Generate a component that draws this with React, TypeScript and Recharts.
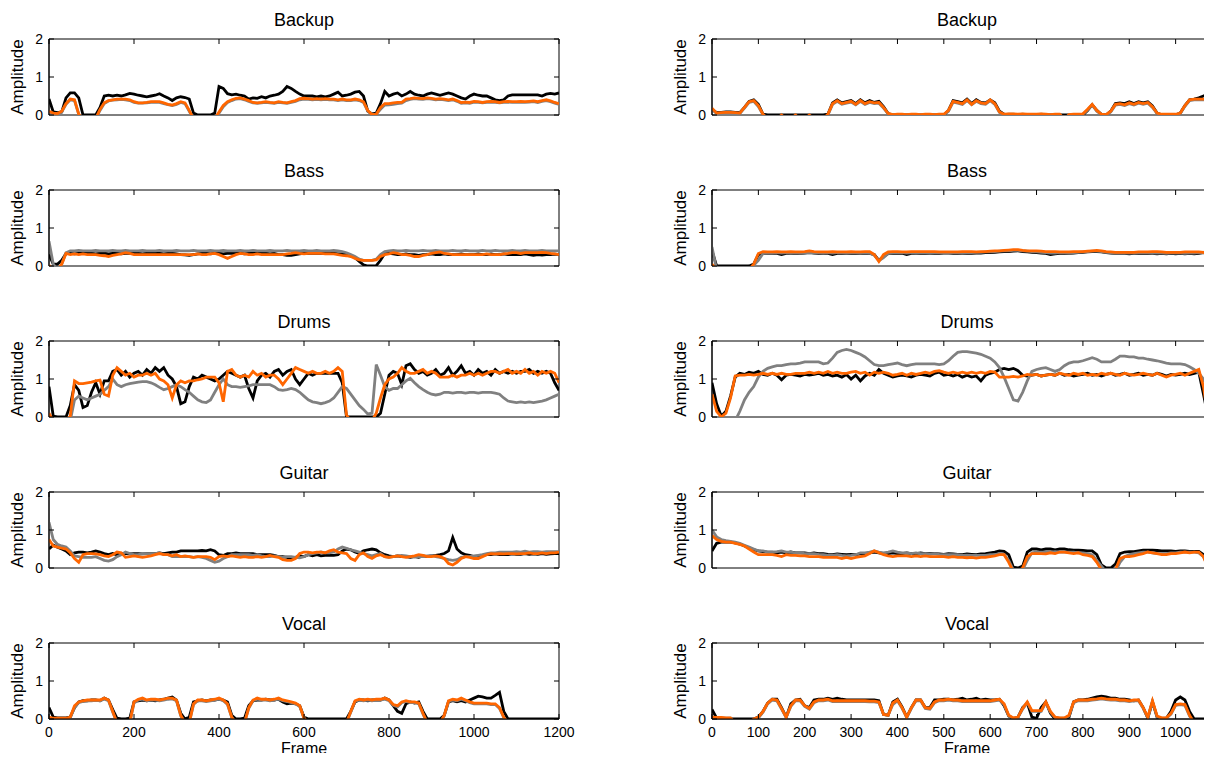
import React from 'react';
import { LineChart, Line, XAxis, YAxis, ReferenceArea } from 'recharts';

// frame grid (every 10 frames)
const LEFT_FRAMES = Array.from({ length: 121 }, (_, i) => i * 10);
const RIGHT_FRAMES = Array.from({ length: 111 }, (_, i) => i * 10);
const LEFT_TICKS = [0, 200, 400, 600, 800, 1000, 1200];
const RIGHT_TICKS = [0, 100, 200, 300, 400, 500, 600, 700, 800, 900, 1000];
const AMP_TICKS = [0, 1, 2];
const TITLES = ['Backup', 'Bass', 'Drums', 'Guitar', 'Vocal'];

// ---- left column ----
const backupLBlack = [
  0.42, 0.08, 0.06, 0.08, 0.45, 0.58, 0.58, 0.45, 0, 0,
  0, 0, 0.2, 0.5, 0.52, 0.5, 0.52, 0.5, 0.53, 0.57,
  0.55, 0.52, 0.5, 0.48, 0.5, 0.52, 0.56, 0.5, 0.45, 0.38,
  0.45, 0.48, 0.46, 0.42, 0.05, 0, 0, 0, 0, 0.05,
  0.75, 0.7, 0.56, 0.53, 0.55, 0.52, 0.5, 0.42, 0.45, 0.44,
  0.48, 0.45, 0.5, 0.52, 0.55, 0.62, 0.75, 0.7, 0.62, 0.55,
  0.5, 0.5, 0.5, 0.48, 0.5, 0.48, 0.5, 0.55, 0.6, 0.5,
  0.52, 0.55, 0.6, 0.62, 0.5, 0.1, 0.03, 0.05, 0.3, 0.62,
  0.5, 0.55, 0.58, 0.5, 0.55, 0.62, 0.55, 0.52, 0.5, 0.55,
  0.58, 0.55, 0.52, 0.55, 0.58, 0.55, 0.5, 0.45, 0.42, 0.5,
  0.55, 0.52, 0.5, 0.5, 0.45, 0.4, 0.38, 0.4, 0.5, 0.53,
  0.53, 0.53, 0.53, 0.53, 0.53, 0.53, 0.5, 0.55, 0.57, 0.55,
  0.58,
];
const backupLGray = [
  0.08, 0.04, 0.03, 0.08, 0.28, 0.4, 0.38, 0.02, -0.1, -0.1,
  -0.1, -0.1, 0.12, 0.3, 0.37, 0.39, 0.4, 0.41, 0.4, 0.38,
  0.33, 0.31, 0.31, 0.32, 0.33, 0.34, 0.33, 0.3, 0.27, 0.25,
  0.28, 0.33, 0.3, 0.1, -0.1, -0.1, -0.1, -0.1, -0.1, -0.1,
  0.05, 0.22, 0.33, 0.38, 0.42, 0.43, 0.4, 0.36, 0.32, 0.31,
  0.32, 0.33, 0.32, 0.31, 0.33, 0.32, 0.31, 0.33, 0.36, 0.4,
  0.42, 0.41, 0.4, 0.41, 0.4, 0.41, 0.4, 0.4, 0.38, 0.4,
  0.38, 0.38, 0.4, 0.38, 0.33, 0.1, 0.01, 0.02, 0.15, 0.26,
  0.27, 0.28, 0.3, 0.31, 0.38, 0.41, 0.43, 0.42, 0.41, 0.43,
  0.42, 0.4, 0.41, 0.4, 0.38, 0.4, 0.36, 0.31, 0.32, 0.31,
  0.34, 0.33, 0.32, 0.33, 0.34, 0.33, 0.32, 0.33, 0.34, 0.33,
  0.33, 0.34, 0.33, 0.34, 0.35, 0.33, 0.36, 0.38, 0.35, 0.31,
  0.28,
];
const backupLOrange = [
  0.1, 0.05, 0.04, 0.1, 0.3, 0.42, 0.4, 0.02, -0.1, -0.1,
  -0.1, -0.1, 0.15, 0.32, 0.38, 0.4, 0.42, 0.42, 0.42, 0.4,
  0.35, 0.32, 0.32, 0.33, 0.35, 0.35, 0.35, 0.32, 0.28, 0.26,
  0.3, 0.35, 0.32, 0.12, -0.1, -0.1, -0.1, -0.1, -0.1, -0.1,
  0.08, 0.25, 0.35, 0.4, 0.44, 0.45, 0.42, 0.38, 0.33, 0.32,
  0.33, 0.35, 0.33, 0.32, 0.35, 0.33, 0.32, 0.35, 0.38, 0.43,
  0.44, 0.43, 0.42, 0.43, 0.42, 0.43, 0.42, 0.42, 0.4, 0.42,
  0.4, 0.4, 0.42, 0.4, 0.35, 0.12, 0.01, 0.02, 0.2, 0.3,
  0.3, 0.32, 0.33, 0.33, 0.42, 0.43, 0.45, 0.44, 0.43, 0.45,
  0.44, 0.42, 0.43, 0.42, 0.4, 0.42, 0.38, 0.33, 0.34, 0.33,
  0.36, 0.35, 0.33, 0.35, 0.36, 0.35, 0.33, 0.35, 0.36, 0.35,
  0.35, 0.36, 0.35, 0.36, 0.37, 0.35, 0.38, 0.4, 0.37, 0.33,
  0.3,
];

const bassLBlack = [
  0.3, 0.05, 0.05, 0.15, 0.33, 0.33, 0.32, 0.33, 0.34, 0.33,
  0.33, 0.32, 0.33, 0.34, 0.32, 0.33, 0.33, 0.32, 0.33, 0.34,
  0.33, 0.33, 0.32, 0.33, 0.33, 0.34, 0.33, 0.32, 0.33, 0.33,
  0.32, 0.3, 0.29, 0.28, 0.3, 0.32, 0.33, 0.33, 0.32, 0.33,
  0.33, 0.32, 0.33, 0.33, 0.34, 0.33, 0.32, 0.33, 0.33, 0.33,
  0.34, 0.33, 0.32, 0.33, 0.3, 0.3, 0.28, 0.28, 0.3, 0.32,
  0.33, 0.33, 0.34, 0.33, 0.33, 0.34, 0.33, 0.33, 0.32, 0.32,
  0.3, 0.28, 0.22, 0.12, 0.03, 0, 0, 0.01, 0.15, 0.33,
  0.33, 0.32, 0.3, 0.3, 0.32, 0.3, 0.3, 0.28, 0.3, 0.3,
  0.32, 0.3, 0.3, 0.32, 0.3, 0.3, 0.3, 0.32, 0.3, 0.3,
  0.3, 0.32, 0.3, 0.3, 0.32, 0.3, 0.3, 0.32, 0.3, 0.3,
  0.3, 0.3, 0.32, 0.3, 0.28, 0.3, 0.29, 0.3, 0.3, 0.31,
  0.3,
];
const bassLGray = [
  0.65, 0.05, -0.1, 0.05, 0.35, 0.4, 0.4, 0.41, 0.4, 0.4,
  0.4, 0.41, 0.4, 0.4, 0.4, 0.41, 0.4, 0.4, 0.41, 0.4,
  0.4, 0.4, 0.41, 0.4, 0.4, 0.4, 0.41, 0.4, 0.4, 0.4,
  0.41, 0.4, 0.4, 0.4, 0.41, 0.4, 0.4, 0.4, 0.41, 0.4,
  0.4, 0.41, 0.4, 0.4, 0.4, 0.41, 0.4, 0.4, 0.41, 0.4,
  0.4, 0.4, 0.41, 0.4, 0.4, 0.4, 0.41, 0.4, 0.4, 0.4,
  0.41, 0.4, 0.4, 0.41, 0.4, 0.4, 0.4, 0.41, 0.4, 0.38,
  0.35, 0.3, 0.25, 0.18, 0.15, 0.15, 0.15, 0.18, 0.3, 0.38,
  0.4, 0.41, 0.4, 0.4, 0.41, 0.4, 0.4, 0.4, 0.41, 0.4,
  0.4, 0.41, 0.4, 0.4, 0.4, 0.41, 0.4, 0.4, 0.41, 0.4,
  0.4, 0.4, 0.41, 0.4, 0.4, 0.41, 0.4, 0.4, 0.4, 0.41,
  0.4, 0.4, 0.41, 0.4, 0.4, 0.4, 0.41, 0.4, 0.4, 0.4,
  0.4,
];
const bassLOrange = [
  0.02, -0.1, -0.1, 0.05, 0.33, 0.3, 0.32, 0.3, 0.32, 0.3,
  0.3, 0.3, 0.28, 0.27, 0.25, 0.28, 0.3, 0.32, 0.35, 0.33,
  0.3, 0.3, 0.3, 0.3, 0.3, 0.3, 0.3, 0.3, 0.3, 0.3,
  0.3, 0.3, 0.3, 0.3, 0.3, 0.32, 0.3, 0.3, 0.32, 0.33,
  0.3, 0.25, 0.2, 0.25, 0.3, 0.33, 0.32, 0.3, 0.3, 0.32,
  0.3, 0.3, 0.3, 0.3, 0.3, 0.3, 0.32, 0.33, 0.35, 0.33,
  0.32, 0.33, 0.33, 0.33, 0.33, 0.32, 0.32, 0.32, 0.3, 0.28,
  0.27, 0.25, 0.2, 0.16, 0.15, 0.15, 0.15, 0.16, 0.25, 0.3,
  0.32, 0.35, 0.33, 0.3, 0.3, 0.28, 0.25, 0.25, 0.28, 0.3,
  0.33, 0.35, 0.37, 0.33, 0.32, 0.3, 0.3, 0.3, 0.3, 0.3,
  0.3, 0.3, 0.3, 0.32, 0.3, 0.3, 0.3, 0.32, 0.33, 0.35,
  0.35, 0.33, 0.35, 0.35, 0.35, 0.35, 0.36, 0.35, 0.33, 0.32,
  0.3,
];

const drumsLBlack = [
  0.8, 0.02, 0, 0, 0, 0.3, 0.85, 0.7, 0.25, 0.3,
  0.65, 0.9, 0.6, 0.95, 0.95, 1.2, 1.25, 1.1, 1.2, 1.05,
  1.15, 1.2, 1.1, 1.25, 1.15, 1.3, 1.2, 1.3, 1.1, 1.0,
  0.8, 0.35, 0.4, 0.8, 1.05, 1.0, 1.1, 1.05, 1.0, 0.95,
  1.0, 1.1, 1.2, 1.15, 1.1, 1.05, 1.1, 0.75, 0.5, 0.95,
  1.1, 1.15, 1.05, 1.2, 1.25, 1.1, 1.2, 1.25, 1.0, 0.85,
  1.0, 1.15, 1.1, 1.15, 1.15, 1.15, 1.15, 1.15, 1.15, 0.9,
  0, 0, 0, 0, 0, 0, 0, 0, 0.1, 0.6,
  1.1, 1.2, 1.15, 0.85, 1.35, 1.4, 1.25, 1.15, 1.2, 1.1,
  1.15, 1.25, 1.1, 1.15, 1.3, 1.1, 1.2, 1.35, 1.15, 1.2,
  1.1, 1.25, 1.15, 1.2, 1.1, 1.25, 1.15, 1.2, 1.15, 1.2,
  1.15, 1.2, 1.2, 1.25, 1.15, 1.2, 1.15, 1.2, 1.15, 0.9,
  0.7,
];
const drumsLGray = [
  -0.1, -0.1, -0.1, -0.1, -0.1, -0.1, 0.45, 0.55, 0.5, 0.45,
  0.5, 0.55, 0.6, 0.7, 0.8, 1.0, 0.85, 0.8, 0.85, 0.88,
  0.9, 0.92, 0.93, 0.93, 0.9, 0.85, 0.78, 0.72, 0.75, 0.8,
  0.85, 0.8, 0.72, 0.65, 0.55, 0.45, 0.4, 0.38, 0.45, 0.65,
  0.85, 1.0, 0.85, 0.8, 0.8, 0.78, 0.8, 0.82, 0.85, 0.85,
  0.85, 0.85, 0.85, 0.8, 0.72, 0.7, 0.72, 0.75, 0.72, 0.65,
  0.55, 0.45, 0.4, 0.38, 0.35, 0.38, 0.42, 0.5, 0.65, 0.8,
  0.75, 0.6, 0.45, 0.3, 0.2, 0.08, 0.1, 1.38, 1.1, 0.8,
  0.7, 0.75, 0.75, 0.85, 0.95, 1.02, 0.9, 0.8, 0.72, 0.65,
  0.6, 0.58, 0.6, 0.65, 0.65, 0.63, 0.65, 0.65, 0.63, 0.65,
  0.65, 0.63, 0.65, 0.65, 0.65, 0.63, 0.6, 0.5, 0.42, 0.4,
  0.38, 0.4, 0.38, 0.4, 0.38, 0.4, 0.42, 0.45, 0.5, 0.55,
  0.6,
];
const drumsLOrange = [
  0.1, -0.1, -0.1, -0.1, -0.1, 0.02, 0.95, 0.88, 0.88, 0.9,
  0.92, 0.95, 0.97, 0.6, 0.55, 1.1, 1.3, 1.2, 1.1, 1.15,
  1.05, 1.1, 1.1, 1.15, 1.1, 1.15, 1.0, 0.95, 0.85, 0.5,
  0.85, 0.95, 0.9, 0.95, 0.95, 0.98, 1.0, 1.05, 1.05, 1.05,
  0.9, 0.4, 1.2, 1.25, 1.1, 1.05, 1.1, 1.05, 1.2, 1.1,
  1.15, 1.05, 1.1, 1.1, 1.0, 0.85, 1.0, 1.15, 1.3, 1.25,
  1.2, 1.15, 1.2, 1.15, 1.15, 1.2, 1.15, 1.2, 1.3, 1.2,
  0.05, -0.1, -0.1, -0.1, -0.1, -0.1, -0.1, 0.1, 0.5, 0.85,
  1.0, 1.05, 1.15, 1.3, 1.2, 1.15, 1.15, 1.2, 1.25, 1.15,
  1.2, 1.15, 1.05, 1.05, 1.05, 1.1, 1.05, 1.1, 1.1, 1.15,
  1.1, 1.15, 1.1, 1.15, 1.2, 1.2, 1.15, 1.2, 1.25, 1.15,
  1.2, 1.15, 1.25, 1.15, 1.2, 1.1, 1.2, 1.15, 1.2, 1.15,
  0.9,
];

const guitarLBlack = [
  0.5, 0.6, 0.55, 0.5, 0.45, 0.35, 0.4, 0.42, 0.42, 0.4,
  0.42, 0.45, 0.42, 0.38, 0.35, 0.38, 0.35, 0.38, 0.38, 0.37,
  0.38, 0.38, 0.37, 0.38, 0.38, 0.38, 0.4, 0.38, 0.4, 0.42,
  0.42, 0.45, 0.45, 0.45, 0.45, 0.45, 0.46, 0.45, 0.48, 0.45,
  0.35, 0.33, 0.38, 0.38, 0.4, 0.38, 0.38, 0.38, 0.38, 0.35,
  0.35, 0.35, 0.35, 0.33, 0.3, 0.3, 0.28, 0.25, 0.28, 0.32,
  0.3, 0.35, 0.32, 0.35, 0.32, 0.33, 0.33, 0.33, 0.35, 0.45,
  0.5, 0.48, 0.42, 0.38, 0.45, 0.48, 0.5, 0.48, 0.4, 0.35,
  0.32, 0.3, 0.32, 0.3, 0.3, 0.28, 0.3, 0.28, 0.32, 0.3,
  0.32, 0.33, 0.35, 0.38, 0.45, 0.8, 0.5, 0.4, 0.35, 0.33,
  0.3, 0.32, 0.33, 0.35, 0.35, 0.37, 0.35, 0.36, 0.35, 0.37,
  0.36, 0.36, 0.38, 0.36, 0.37, 0.36, 0.38, 0.36, 0.37, 0.38,
  0.38,
];
const guitarLGray = [
  1.2, 0.75, 0.62, 0.58, 0.55, 0.45, 0.32, 0.3, 0.28, 0.28,
  0.28, 0.3, 0.25, 0.2, 0.18, 0.22, 0.3, 0.35, 0.42, 0.38,
  0.35, 0.35, 0.38, 0.38, 0.38, 0.38, 0.4, 0.35, 0.35, 0.3,
  0.3, 0.3, 0.3, 0.3, 0.28, 0.3, 0.28, 0.25, 0.2, 0.15,
  0.18, 0.25, 0.3, 0.35, 0.35, 0.35, 0.35, 0.35, 0.33, 0.35,
  0.32, 0.3, 0.3, 0.32, 0.3, 0.28, 0.3, 0.3, 0.28, 0.27,
  0.3, 0.35, 0.38, 0.4, 0.42, 0.4, 0.4, 0.42, 0.5, 0.55,
  0.52, 0.48, 0.45, 0.42, 0.38, 0.35, 0.32, 0.35, 0.38, 0.3,
  0.28, 0.3, 0.32, 0.33, 0.32, 0.3, 0.3, 0.3, 0.3, 0.32,
  0.33, 0.3, 0.28, 0.25, 0.22, 0.2, 0.22, 0.28, 0.3, 0.3,
  0.32, 0.33, 0.35, 0.38, 0.4, 0.4, 0.42, 0.42, 0.42, 0.42,
  0.43, 0.42, 0.44, 0.42, 0.43, 0.43, 0.42, 0.43, 0.43, 0.43,
  0.43,
];
const guitarLOrange = [
  0.75, 0.58, 0.55, 0.52, 0.5, 0.4, 0.25, 0.15, 0.35, 0.38,
  0.38, 0.37, 0.35, 0.32, 0.3, 0.35, 0.42, 0.4, 0.28, 0.3,
  0.32, 0.3, 0.28, 0.3, 0.32, 0.35, 0.38, 0.35, 0.35, 0.32,
  0.35, 0.3, 0.32, 0.3, 0.28, 0.3, 0.3, 0.3, 0.28, 0.22,
  0.3, 0.32, 0.3, 0.32, 0.3, 0.28, 0.3, 0.28, 0.28, 0.3,
  0.28, 0.3, 0.33, 0.3, 0.28, 0.22, 0.2, 0.2, 0.25, 0.38,
  0.42, 0.42, 0.4, 0.42, 0.42, 0.4, 0.45, 0.48, 0.42, 0.4,
  0.38, 0.25, 0.2, 0.35, 0.4, 0.3, 0.25, 0.32, 0.35, 0.3,
  0.28, 0.3, 0.32, 0.3, 0.28, 0.3, 0.32, 0.35, 0.33, 0.3,
  0.3, 0.32, 0.3, 0.25, 0.12, 0.08, 0.15, 0.25, 0.3, 0.28,
  0.25, 0.25, 0.3, 0.35, 0.38, 0.37, 0.38, 0.37, 0.38, 0.38,
  0.37, 0.38, 0.38, 0.4, 0.38, 0.38, 0.4, 0.38, 0.4, 0.4,
  0.42,
];

const vocalLBlack = [
  0.3, 0.05, 0.03, 0.03, 0.03, 0.05, 0.3, 0.45, 0.48, 0.48,
  0.5, 0.5, 0.48, 0.55, 0.5, 0.25, 0.02, 0, 0, 0.02,
  0.45, 0.48, 0.5, 0.48, 0.5, 0.48, 0.5, 0.52, 0.55, 0.58,
  0.5, 0.15, 0, 0.05, 0.45, 0.48, 0.5, 0.48, 0.5, 0.5,
  0.52, 0.5, 0.45, 0.1, 0, 0, 0.02, 0.35, 0.48, 0.5,
  0.5, 0.52, 0.5, 0.5, 0.52, 0.45, 0.4, 0.42, 0.4, 0.35,
  0.05, 0, 0, 0, 0, 0, 0, 0, 0, 0,
  0, 0.2, 0.45, 0.5, 0.5, 0.48, 0.5, 0.5, 0.5, 0.55,
  0.5, 0.35, 0.2, 0.15, 0.4, 0.45, 0.42, 0.45, 0.2, 0,
  0, 0, 0, 0.1, 0.45, 0.48, 0.45, 0.48, 0.45, 0.5,
  0.55, 0.6, 0.58, 0.55, 0.55, 0.62, 0.7, 0.2, 0, 0,
  0, 0, 0, 0, 0, 0, 0, 0, 0, 0,
  0,
];
const vocalLGray = [
  0.04, 0.01, 0.01, 0.01, 0.01, 0.03, 0.3, 0.43, 0.46, 0.48,
  0.48, 0.49, 0.48, 0.52, 0.48, 0.18, -0.1, -0.1, -0.1, -0.1,
  0.42, 0.5, 0.52, 0.48, 0.5, 0.5, 0.48, 0.5, 0.52, 0.53,
  0.48, 0.08, -0.1, -0.1, 0.38, 0.48, 0.48, 0.46, 0.48, 0.5,
  0.52, 0.48, 0.38, 0.04, -0.1, -0.1, -0.1, 0.28, 0.48, 0.52,
  0.5, 0.5, 0.48, 0.5, 0.52, 0.48, 0.46, 0.43, 0.4, 0.33,
  0.02, -0.1, -0.1, -0.1, -0.1, -0.1, -0.1, -0.1, -0.1, -0.1,
  -0.1, 0.18, 0.46, 0.5, 0.48, 0.5, 0.48, 0.5, 0.5, 0.52,
  0.48, 0.36, 0.32, 0.43, 0.46, 0.43, 0.43, 0.4, 0.13, -0.1,
  -0.1, -0.1, -0.1, 0.08, 0.46, 0.5, 0.48, 0.52, 0.48, 0.43,
  0.4, 0.4, 0.4, 0.4, 0.38, 0.38, 0.28, 0.04, -0.1, -0.1,
  -0.1, -0.1, -0.1, -0.1, -0.1, -0.1, -0.1, -0.1, -0.1, -0.1,
  -0.1,
];
const vocalLOrange = [
  0.05, 0.02, 0.02, 0.02, 0.02, 0.05, 0.35, 0.45, 0.48, 0.5,
  0.5, 0.5, 0.5, 0.55, 0.5, 0.2, -0.1, -0.1, -0.1, -0.1,
  0.45, 0.52, 0.55, 0.5, 0.52, 0.52, 0.5, 0.52, 0.55, 0.55,
  0.5, 0.1, -0.1, -0.1, 0.4, 0.5, 0.5, 0.48, 0.5, 0.52,
  0.55, 0.5, 0.4, 0.05, -0.1, -0.1, -0.1, 0.3, 0.5, 0.55,
  0.52, 0.52, 0.5, 0.52, 0.55, 0.5, 0.48, 0.45, 0.42, 0.35,
  0.02, -0.1, -0.1, -0.1, -0.1, -0.1, -0.1, -0.1, -0.1, -0.1,
  -0.1, 0.2, 0.48, 0.52, 0.5, 0.52, 0.5, 0.52, 0.52, 0.55,
  0.5, 0.38, 0.35, 0.45, 0.48, 0.45, 0.45, 0.42, 0.15, -0.1,
  -0.1, -0.1, -0.1, 0.1, 0.48, 0.52, 0.5, 0.55, 0.5, 0.45,
  0.42, 0.42, 0.42, 0.42, 0.4, 0.4, 0.3, 0.05, -0.1, -0.1,
  -0.1, -0.1, -0.1, -0.1, -0.1, -0.1, -0.1, -0.1, -0.1, -0.1,
  -0.1,
];

// ---- right column ----
const backupRBlack = [
  0.15, 0.06, 0.07, 0.08, 0.08, 0.07, 0.06, 0.2, 0.36, 0.4,
  0.28, 0.02, 0, 0, 0, 0, 0, 0, 0, 0,
  0, 0, 0, 0, 0, 0.02, 0.32, 0.4, 0.32, 0.35,
  0.38, 0.3, 0.4, 0.32, 0.38, 0.33, 0.36, 0.22, 0.04, 0,
  0, 0, 0, 0, 0, 0, 0, 0, 0, 0,
  0, 0.12, 0.38, 0.35, 0.32, 0.42, 0.3, 0.4, 0.33, 0.32,
  0.4, 0.32, 0.1, 0.02, 0, 0, 0, 0, 0, 0,
  0, 0, 0, 0, 0, 0, 0, 0, 0, 0,
  0, 0.12, 0.27, 0.12, 0.02, 0, 0.1, 0.3, 0.32, 0.3,
  0.35, 0.3, 0.35, 0.32, 0.35, 0.24, 0.05, 0, 0, 0,
  0, 0.05, 0.25, 0.4, 0.42, 0.45, 0.5, 0.55, 0.6, 0.62,
  0.62,
];
const backupRGray = [
  0.15, 0.04, 0.05, 0.06, 0.06, 0.05, 0.04, 0.18, 0.33, 0.36,
  0.22, 0.01, -0.1, -0.1, -0.1, -0.1, -0.1, -0.1, -0.1, -0.1,
  -0.1, -0.1, -0.1, -0.1, -0.1, 0, 0.28, 0.36, 0.28, 0.31,
  0.34, 0.27, 0.36, 0.28, 0.33, 0.3, 0.31, 0.18, 0.03, 0,
  0.01, 0.01, 0, 0.01, 0.01, 0, 0.01, 0.01, 0, 0.01,
  0.01, 0.1, 0.34, 0.31, 0.28, 0.38, 0.27, 0.36, 0.3, 0.28,
  0.38, 0.28, 0.07, 0.01, 0.02, 0.02, 0.01, 0.02, 0.01, 0.01,
  0.01, 0.02, 0.01, 0, 0.01, 0.01, -0.1, 0, 0.01, 0.01,
  0.02, 0.13, 0.26, 0.1, 0.01, 0, 0.08, 0.26, 0.28, 0.25,
  0.3, 0.26, 0.31, 0.28, 0.31, 0.2, 0.04, 0.01, 0.01, 0.01,
  0.01, 0.04, 0.23, 0.38, 0.4, 0.4, 0.4, 0.38, 0.34, 0.31,
  0.28,
];
const backupROrange = [
  0.18, 0.05, 0.06, 0.07, 0.07, 0.06, 0.05, 0.2, 0.35, 0.38,
  0.25, 0.02, -0.1, -0.1, -0.1, 0, -0.1, -0.1, 0, -0.1,
  -0.1, 0, -0.1, -0.1, -0.1, 0.02, 0.3, 0.38, 0.3, 0.33,
  0.36, 0.28, 0.38, 0.3, 0.35, 0.32, 0.33, 0.2, 0.04, 0.01,
  0.02, 0.02, 0.01, 0.02, 0.02, 0.01, 0.02, 0.02, 0.01, 0.02,
  0.02, 0.12, 0.36, 0.33, 0.3, 0.4, 0.28, 0.38, 0.32, 0.3,
  0.4, 0.3, 0.08, 0.02, 0.03, 0.03, 0.02, 0.03, 0.02, 0.02,
  0.02, 0.03, 0.02, 0.01, 0.02, 0.02, -0.1, 0.01, 0.02, 0.02,
  0.03, 0.15, 0.28, 0.12, 0.02, 0.01, 0.1, 0.28, 0.3, 0.27,
  0.32, 0.28, 0.33, 0.3, 0.33, 0.22, 0.05, 0.02, 0.02, 0.02,
  0.02, 0.05, 0.25, 0.4, 0.42, 0.42, 0.42, 0.4, 0.36, 0.33,
  0.3,
];

const bassRBlack = [
  0.4, 0, 0, 0, 0, 0, 0, 0, 0, 0.05,
  0.3, 0.33, 0.33, 0.34, 0.33, 0.3, 0.33, 0.34, 0.33, 0.33,
  0.34, 0.35, 0.34, 0.33, 0.34, 0.33, 0.3, 0.33, 0.34, 0.33,
  0.34, 0.33, 0.34, 0.33, 0.33, 0.3, 0.15, 0.25, 0.33, 0.34,
  0.33, 0.34, 0.3, 0.33, 0.34, 0.33, 0.34, 0.33, 0.34, 0.33,
  0.34, 0.34, 0.33, 0.34, 0.33, 0.34, 0.33, 0.34, 0.34, 0.35,
  0.35, 0.36, 0.37, 0.38, 0.38, 0.39, 0.4, 0.38, 0.37, 0.36,
  0.35, 0.34, 0.33, 0.3, 0.32, 0.33, 0.34, 0.33, 0.34, 0.35,
  0.36, 0.37, 0.38, 0.38, 0.37, 0.35, 0.34, 0.33, 0.34, 0.33,
  0.32, 0.33, 0.34, 0.33, 0.34, 0.33, 0.32, 0.33, 0.32, 0.33,
  0.32, 0.33, 0.32, 0.33, 0.32, 0.33, 0.35, 0.42, 0.4, 0.35,
  0.32,
];
const bassRGray = [
  0.5, -0.1, -0.1, -0.1, -0.1, -0.1, -0.1, -0.1, -0.1, 0.02,
  0.15, 0.33, 0.34, 0.34, 0.35, 0.34, 0.35, 0.34, 0.35, 0.34,
  0.35, 0.36, 0.35, 0.35, 0.34, 0.35, 0.34, 0.35, 0.35, 0.34,
  0.35, 0.35, 0.34, 0.35, 0.34, 0.28, 0.14, 0.22, 0.33, 0.35,
  0.35, 0.35, 0.34, 0.35, 0.34, 0.35, 0.35, 0.34, 0.35, 0.35,
  0.35, 0.34, 0.35, 0.35, 0.34, 0.35, 0.35, 0.36, 0.36, 0.37,
  0.37, 0.38, 0.39, 0.4, 0.4, 0.41, 0.41, 0.4, 0.39, 0.38,
  0.37, 0.36, 0.35, 0.34, 0.34, 0.35, 0.35, 0.34, 0.35, 0.36,
  0.37, 0.38, 0.39, 0.39, 0.38, 0.36, 0.35, 0.34, 0.34, 0.34,
  0.34, 0.34, 0.35, 0.35, 0.35, 0.34, 0.34, 0.34, 0.33, 0.34,
  0.34, 0.34, 0.33, 0.34, 0.34, 0.35, 0.35, 0.3, 0.2, 0.15,
  0.1,
];
const bassROrange = [
  0.05, -0.1, -0.1, -0.1, -0.1, -0.1, -0.1, -0.1, -0.1, 0.05,
  0.33, 0.38, 0.37, 0.37, 0.38, 0.37, 0.37, 0.38, 0.37, 0.37,
  0.38, 0.4, 0.38, 0.37, 0.37, 0.37, 0.38, 0.37, 0.37, 0.37,
  0.38, 0.37, 0.37, 0.38, 0.38, 0.3, 0.12, 0.3, 0.37, 0.38,
  0.38, 0.37, 0.37, 0.38, 0.38, 0.38, 0.38, 0.38, 0.38, 0.37,
  0.37, 0.37, 0.37, 0.37, 0.38, 0.38, 0.38, 0.37, 0.38, 0.38,
  0.39, 0.4, 0.4, 0.41, 0.42, 0.43, 0.43, 0.41, 0.4, 0.4,
  0.4, 0.39, 0.38, 0.38, 0.38, 0.37, 0.37, 0.37, 0.38, 0.38,
  0.38, 0.39, 0.4, 0.41, 0.4, 0.38, 0.37, 0.36, 0.36, 0.36,
  0.36, 0.36, 0.37, 0.37, 0.37, 0.38, 0.38, 0.37, 0.36, 0.36,
  0.36, 0.36, 0.37, 0.37, 0.37, 0.37, 0.36, 0.3, 0.15, 0.05,
  0,
];

const drumsRBlack = [
  0.9, 0.35, 0.02, 0.15, 0.55, 1.05, 1.15, 1.12, 1.18, 1.15,
  1.2, 1.12, 1.1, 1.15, 1.1, 0.98, 1.1, 1.12, 1.1, 1.08,
  1.12, 1.1, 1.12, 1.15, 1.1, 1.12, 1.08, 1.1, 1.05, 1.12,
  1.0, 1.1, 0.95, 1.08, 1.15, 1.1, 1.25, 1.15, 1.1, 1.05,
  1.08, 1.1, 1.08, 1.05, 1.1, 1.12, 1.1, 1.08, 1.15, 1.18,
  1.1, 1.12, 1.08, 1.12, 1.05, 1.1, 1.05, 1.08, 0.95, 1.1,
  1.15, 1.18, 1.25, 1.28, 1.25, 1.28, 1.22, 1.1, 1.08, 1.1,
  1.12, 1.08, 1.1, 1.12, 1.1, 1.15, 1.1, 1.12, 1.08, 1.1,
  1.12, 1.15, 1.1, 1.12, 1.08, 1.12, 1.15, 1.1, 1.12, 1.15,
  1.1, 1.12, 1.15, 1.1, 1.12, 1.1, 1.15, 1.12, 1.08, 1.12,
  1.1, 1.12, 1.15, 1.12, 1.15, 1.18, 0.6, 0, 0, 0,
  0,
];
const drumsRGray = [
  -0.1, -0.1, -0.1, -0.1, -0.1, -0.1, 0.15, 0.45, 0.65, 0.8,
  1.05, 1.2, 1.28, 1.32, 1.35, 1.35, 1.38, 1.4, 1.4, 1.42,
  1.45, 1.45, 1.45, 1.45, 1.4, 1.42, 1.55, 1.7, 1.75, 1.78,
  1.75, 1.7, 1.65, 1.58, 1.48, 1.38, 1.35, 1.35, 1.38, 1.4,
  1.42, 1.38, 1.35, 1.38, 1.4, 1.4, 1.4, 1.4, 1.4, 1.38,
  1.4, 1.48, 1.6, 1.7, 1.72, 1.72, 1.7, 1.68, 1.65, 1.6,
  1.55, 1.45, 1.3, 1.05, 0.75, 0.45, 0.42, 0.65, 0.95, 1.2,
  1.25, 1.28, 1.3, 1.25, 1.2, 1.25, 1.35, 1.42, 1.45, 1.45,
  1.48, 1.52, 1.56, 1.52, 1.45, 1.45, 1.45, 1.52, 1.6, 1.6,
  1.58, 1.58, 1.55, 1.55, 1.52, 1.5, 1.48, 1.45, 1.42, 1.4,
  1.4, 1.4, 1.38, 1.32, 1.25, 1.15, 1.0, 0.7, 0.3, 0.1,
  0,
];
const drumsROrange = [
  0.6, 0.15, 0, 0.1, 0.5, 1.08, 1.1, 1.1, 1.12, 1.1,
  1.12, 1.15, 1.12, 1.15, 1.12, 1.15, 1.12, 1.12, 1.15, 1.15,
  1.15, 1.18, 1.15, 1.18, 1.15, 1.2, 1.15, 1.18, 1.15, 1.15,
  1.18, 1.2, 1.15, 1.18, 1.1, 1.18, 1.15, 1.18, 1.15, 1.1,
  1.12, 1.15, 1.1, 1.15, 1.12, 1.15, 1.18, 1.15, 1.2, 1.22,
  1.18, 1.15, 1.18, 1.15, 1.18, 1.15, 1.18, 1.15, 1.18, 1.15,
  1.2, 1.18, 1.05, 1.05, 1.05, 1.07, 1.05, 1.08, 1.12, 1.1,
  1.12, 1.08, 1.1, 1.12, 1.1, 1.15, 1.12, 1.1, 1.15, 1.12,
  1.15, 1.1, 1.12, 1.1, 1.15, 1.12, 1.15, 1.12, 1.1, 1.15,
  1.12, 1.1, 1.12, 1.15, 1.12, 1.1, 1.15, 1.1, 1.05, 1.1,
  1.12, 1.15, 1.1, 1.15, 1.2, 1.25, 0.8, 0, -0.1, -0.1,
  -0.1,
];

const guitarRBlack = [
  0.45, 0.65, 0.68, 0.68, 0.68, 0.66, 0.63, 0.58, 0.53, 0.48,
  0.45, 0.43, 0.42, 0.42, 0.4, 0.42, 0.4, 0.42, 0.4, 0.4,
  0.4, 0.38, 0.4, 0.38, 0.38, 0.36, 0.35, 0.37, 0.36, 0.35,
  0.36, 0.35, 0.37, 0.38, 0.4, 0.42, 0.4, 0.38, 0.38, 0.4,
  0.38, 0.38, 0.4, 0.38, 0.38, 0.4, 0.38, 0.38, 0.38, 0.37,
  0.36, 0.38, 0.37, 0.36, 0.35, 0.37, 0.36, 0.35, 0.37, 0.38,
  0.4, 0.42, 0.45, 0.44, 0.35, 0.02, 0, 0.05, 0.42, 0.5,
  0.5, 0.48, 0.5, 0.5, 0.48, 0.5, 0.5, 0.48, 0.47, 0.47,
  0.46, 0.45, 0.45, 0.35, 0.08, 0, 0, 0.1, 0.38, 0.42,
  0.43, 0.43, 0.45, 0.47, 0.47, 0.47, 0.46, 0.45, 0.45, 0.45,
  0.44, 0.45, 0.45, 0.44, 0.44, 0.44, 0.35, 0.02, 0, 0,
  0,
];
const guitarRGray = [
  1.0, 0.82, 0.75, 0.72, 0.7, 0.68, 0.65, 0.6, 0.55, 0.5,
  0.45, 0.45, 0.42, 0.42, 0.43, 0.45, 0.42, 0.42, 0.4, 0.4,
  0.38, 0.38, 0.38, 0.36, 0.35, 0.33, 0.33, 0.35, 0.33, 0.32,
  0.33, 0.35, 0.4, 0.4, 0.42, 0.45, 0.42, 0.4, 0.42, 0.45,
  0.42, 0.4, 0.4, 0.38, 0.4, 0.38, 0.38, 0.36, 0.38, 0.36,
  0.35, 0.35, 0.35, 0.35, 0.33, 0.34, 0.33, 0.33, 0.33, 0.33,
  0.35, 0.35, 0.38, 0.36, 0.2, -0.05, -0.1, -0.05, 0.2, 0.4,
  0.42, 0.42, 0.42, 0.42, 0.43, 0.42, 0.42, 0.42, 0.42, 0.4,
  0.4, 0.38, 0.35, 0.2, 0.05, -0.1, -0.1, -0.1, 0.15, 0.3,
  0.35, 0.38, 0.4, 0.42, 0.42, 0.4, 0.38, 0.38, 0.38, 0.4,
  0.4, 0.42, 0.42, 0.42, 0.42, 0.4, 0.3, 0.05, -0.1, -0.1,
  -0.1,
];
const guitarROrange = [
  0.85, 0.75, 0.7, 0.68, 0.68, 0.65, 0.62, 0.58, 0.5, 0.42,
  0.35, 0.35, 0.35, 0.35, 0.33, 0.3, 0.35, 0.33, 0.33, 0.32,
  0.32, 0.3, 0.3, 0.3, 0.28, 0.28, 0.28, 0.28, 0.25, 0.28,
  0.25, 0.28, 0.3, 0.32, 0.38, 0.45, 0.4, 0.35, 0.32, 0.3,
  0.32, 0.32, 0.32, 0.3, 0.32, 0.3, 0.32, 0.3, 0.3, 0.3,
  0.3, 0.28, 0.3, 0.28, 0.28, 0.27, 0.28, 0.26, 0.28, 0.28,
  0.3, 0.32, 0.35, 0.35, 0.15, -0.1, -0.1, 0, 0.3, 0.38,
  0.38, 0.38, 0.37, 0.4, 0.38, 0.42, 0.42, 0.4, 0.38, 0.4,
  0.35, 0.33, 0.3, 0.15, -0.05, -0.1, -0.1, -0.05, 0.25, 0.3,
  0.3, 0.32, 0.35, 0.38, 0.42, 0.4, 0.38, 0.35, 0.35, 0.38,
  0.38, 0.4, 0.42, 0.4, 0.42, 0.42, 0.3, 0, -0.1, -0.1,
  -0.1,
];

const vocalRBlack = [
  0.25, 0.02, 0, 0, 0, 0, 0, 0, 0, 0,
  0.05, 0.2, 0.42, 0.52, 0.52, 0.3, 0.05, 0.4, 0.5, 0.52,
  0.35, 0.3, 0.5, 0.52, 0.52, 0.55, 0.52, 0.55, 0.52, 0.5,
  0.5, 0.5, 0.5, 0.5, 0.5, 0.5, 0.48, 0.12, 0.1, 0.45,
  0.52, 0.32, 0.05, 0.3, 0.5, 0.5, 0.3, 0.3, 0.5, 0.5,
  0.52, 0.52, 0.5, 0.52, 0.55, 0.5, 0.52, 0.55, 0.5, 0.52,
  0.5, 0.5, 0.52, 0.35, 0.08, 0, 0.05, 0.3, 0.42, 0.05,
  0.02, 0.3, 0.45, 0.15, 0, 0, 0, 0.05, 0.45, 0.5,
  0.5, 0.52, 0.55, 0.58, 0.6, 0.58, 0.55, 0.55, 0.52, 0.52,
  0.5, 0.48, 0.5, 0.3, 0.02, 0.45, 0.05, 0, 0.02, 0.2,
  0.5, 0.58, 0.5, 0.2, 0, 0, 0, 0, 0, 0,
  0,
];
const vocalRGray = [
  0.04, 0.03, 0.03, 0.02, 0.02, -0.1, -0.1, -0.1, -0.1, -0.05,
  0.03, 0.18, 0.4, 0.5, 0.48, 0.26, 0.04, 0.33, 0.48, 0.48,
  0.33, 0.26, 0.43, 0.48, 0.48, 0.5, 0.46, 0.46, 0.46, 0.46,
  0.46, 0.46, 0.46, 0.46, 0.45, 0.45, 0.43, 0.12, 0.1, 0.38,
  0.48, 0.28, 0.04, 0.28, 0.48, 0.48, 0.28, 0.26, 0.43, 0.48,
  0.48, 0.5, 0.48, 0.48, 0.46, 0.46, 0.46, 0.46, 0.46, 0.46,
  0.46, 0.48, 0.5, 0.38, 0.08, 0.02, 0.04, 0.26, 0.43, 0.2,
  0.2, 0.2, 0.43, 0.18, 0.04, 0.02, 0.02, 0.08, 0.43, 0.48,
  0.48, 0.48, 0.5, 0.51, 0.53, 0.51, 0.5, 0.5, 0.48, 0.48,
  0.46, 0.48, 0.48, 0.28, 0.04, 0.46, 0.06, 0.02, 0.02, 0.13,
  0.36, 0.38, 0.36, 0.08, -0.1, -0.1, -0.1, -0.1, -0.1, -0.1,
  -0.1,
];
const vocalROrange = [
  0.05, 0.04, 0.04, 0.03, 0.03, -0.1, -0.1, -0.1, -0.1, 0,
  0.05, 0.2, 0.42, 0.52, 0.5, 0.28, 0.05, 0.35, 0.5, 0.5,
  0.35, 0.28, 0.45, 0.5, 0.5, 0.52, 0.48, 0.48, 0.48, 0.48,
  0.48, 0.48, 0.48, 0.48, 0.47, 0.47, 0.45, 0.12, 0.1, 0.42,
  0.5, 0.3, 0.05, 0.3, 0.5, 0.5, 0.3, 0.28, 0.45, 0.5,
  0.5, 0.52, 0.5, 0.5, 0.48, 0.48, 0.48, 0.48, 0.48, 0.48,
  0.48, 0.5, 0.52, 0.4, 0.1, 0.03, 0.05, 0.28, 0.45, 0.22,
  0.22, 0.22, 0.45, 0.2, 0.05, 0.03, 0.03, 0.1, 0.45, 0.5,
  0.5, 0.5, 0.52, 0.53, 0.55, 0.53, 0.52, 0.52, 0.5, 0.5,
  0.48, 0.5, 0.5, 0.3, 0.05, 0.48, 0.08, 0.03, 0.03, 0.15,
  0.38, 0.4, 0.38, 0.1, -0.1, -0.1, -0.1, -0.1, -0.1, -0.1,
  -0.1,
];

const LEFT_SERIES = [
  [backupLBlack, backupLGray, backupLOrange],
  [bassLBlack, bassLGray, bassLOrange],
  [drumsLBlack, drumsLGray, drumsLOrange],
  [guitarLBlack, guitarLGray, guitarLOrange],
  [vocalLBlack, vocalLGray, vocalLOrange],
];
const RIGHT_SERIES = [
  [backupRBlack, backupRGray, backupROrange],
  [bassRBlack, bassRGray, bassROrange],
  [drumsRBlack, drumsRGray, drumsROrange],
  [guitarRBlack, guitarRGray, guitarROrange],
  [vocalRBlack, vocalRGray, vocalROrange],
];

// layout
const PLOT_W = 510;
const PLOT_H = 76;
const ROW_TOPS = [39, 190, 341, 492, 643];
const COL_X = [49, 712];
const Y_AXIS_W = 49;
const PAD = 9;
const RIGHT_PAD = 22;
const FONT = '"Liberation Sans", Arial, Helvetica, sans-serif';
const COLORS = ['#000000', '#808080', '#ff6600'];
const KEYS = ['black', 'gray', 'orange'];

type PanelProps = {
  title: string;
  frames: number[];
  series: number[][];
  xMax: number;
  xTicks: number[];
  x0: number;
  y0: number;
  last: boolean;
};

const blank = () => '';

const Panel: React.FC<PanelProps> = ({ title, frames, series, xMax, xTicks, x0, y0, last }) => {
  const data = frames.map((f, i) => ({
    f,
    black: series[0][i],
    gray: series[1][i],
    orange: series[2][i],
  }));
  const bottomH = last ? 24 : 0;
  const tickStyle = { fill: '#000', fontSize: 14 };

  return (
    <>
      <div
        style={{
          position: 'absolute', left: x0, top: y0 - 29, width: PLOT_W,
          textAlign: 'center', fontSize: 18, lineHeight: '20px',
        }}
      >
        {title}
      </div>
      <div
        style={{
          position: 'absolute', left: x0 - 31 - 50, top: y0 + PLOT_H / 2 - 10,
          width: 100, height: 20, lineHeight: '20px', textAlign: 'center',
          fontSize: 17, transform: 'rotate(-90deg)',
        }}
      >
        Amplitude
      </div>
      <div style={{ position: 'absolute', left: x0 - Y_AXIS_W, top: y0 - PAD }}>
        <LineChart
          width={Y_AXIS_W + PLOT_W + 1 + RIGHT_PAD}
          height={PAD + PLOT_H + bottomH + PAD}
          data={data}
          margin={{ top: PAD - 1, right: RIGHT_PAD, bottom: PAD, left: 0 }}
        >
          <XAxis
            xAxisId="b" dataKey="f" type="number" domain={[0, xMax]} ticks={xTicks}
            interval={0} allowDataOverflow height={bottomH} stroke="#000"
            tickSize={-5} tickMargin={13} tick={tickStyle}
            tickFormatter={last ? undefined : blank}
          />
          <XAxis
            xAxisId="t" orientation="top" dataKey="f" type="number" domain={[0, xMax]}
            ticks={xTicks} interval={0} allowDataOverflow height={1} stroke="#000"
            axisLine={false} tickSize={-5} tickFormatter={blank}
          />
          <YAxis
            yAxisId="l" type="number" domain={[0, 2]} ticks={AMP_TICKS} interval={0}
            allowDataOverflow width={Y_AXIS_W} stroke="#000"
            tickSize={-5} tickMargin={11} tick={tickStyle}
          />
          <YAxis
            yAxisId="r" orientation="right" type="number" domain={[0, 2]} ticks={AMP_TICKS}
            interval={0} allowDataOverflow width={1} stroke="#000"
            axisLine={false} tickSize={-5} tickFormatter={blank}
          />
          {KEYS.map((k, i) => (
            <Line
              key={k}
              xAxisId="b"
              yAxisId="l"
              type="linear"
              dataKey={k}
              stroke={COLORS[i]}
              strokeWidth={2.8}
              dot={false}
              activeDot={false}
              isAnimationActive={false}
            />
          ))}
          <ReferenceArea
            xAxisId="b" yAxisId="l" x1={0} x2={xMax} y1={0} y2={2}
            fill="none" fillOpacity={0} stroke="#000" strokeWidth={1} ifOverflow="visible"
          />
        </LineChart>
      </div>
    </>
  );
};

export default function App() {
  return (
    <div
      style={{
        position: 'relative', width: 1212, height: 761, margin: -8, overflow: 'hidden',
        background: '#fff', fontFamily: FONT, color: '#000',
      }}
    >
      {LEFT_SERIES.map((s, i) => (
        <Panel
          key={'l' + i} title={TITLES[i]} frames={LEFT_FRAMES} series={s}
          xMax={1200} xTicks={LEFT_TICKS} x0={COL_X[0]} y0={ROW_TOPS[i]} last={i === 4}
        />
      ))}
      {RIGHT_SERIES.map((s, i) => (
        <Panel
          key={'r' + i} title={TITLES[i]} frames={RIGHT_FRAMES} series={s}
          xMax={1100} xTicks={RIGHT_TICKS} x0={COL_X[1]} y0={ROW_TOPS[i]} last={i === 4}
        />
      ))}
      {COL_X.map((x) => (
        <div
          key={'xl' + x}
          style={{
            position: 'absolute', left: x, top: 740, width: PLOT_W,
            textAlign: 'center', fontSize: 16, lineHeight: '18px',
          }}
        >
          Frame
        </div>
      ))}
    </div>
  );
}
